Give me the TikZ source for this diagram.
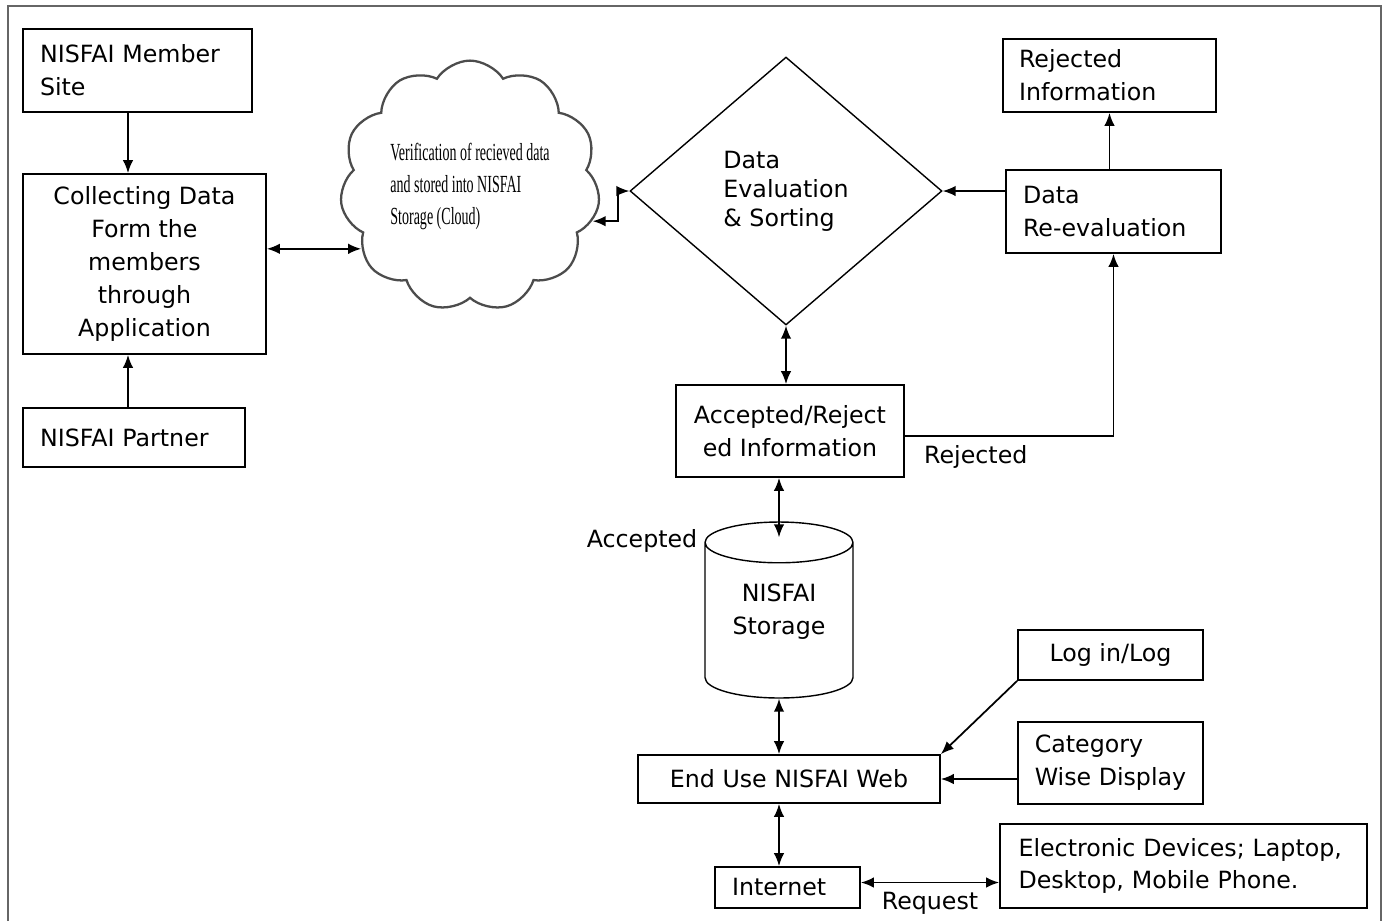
\documentclass[tikz,border=0pt]{standalone}
\usepackage{fontspec}
\setmainfont{DejaVu Sans}
\newfontfamily\cloudfont{Liberation Serif}
\usetikzlibrary{shapes.geometric,shapes.symbols,arrows.meta}

\begin{document}
\begin{tikzpicture}[
    x=0.02cm, y=-0.02cm,
    font=\fontsize{13.5}{18.7}\selectfont,
    box/.style={rectangle, draw, line width=1pt, inner sep=0pt, align=center},
    lbox/.style={box, align=left, inner xsep=0.34cm},
    decision/.style={diamond, draw, line width=0.8pt, inner sep=0pt, align=left, minimum width=6.24cm, minimum height=5.36cm, font=\fontsize{13.5}{16.4}\selectfont},
    store/.style={cylinder, draw, line width=0.8pt, shape border rotate=90, aspect=0.39, minimum width=2.96cm, minimum height=3.52cm, align=center, text depth=17pt},
    cloudbox/.style={cloud, draw=black!70, line width=1.3pt, cloud puffs=11, cloud puff arc=115, minimum width=5.2cm, minimum height=2.9cm, inner sep=0pt},
    arrow/.style={-{Latex[length=2.6mm, width=2.1mm]}, line width=1pt},
    darrow/.style={{Latex[length=2.6mm, width=2.1mm]}-{Latex[length=2.6mm, width=2.1mm]}, line width=1pt}
]
\useasboundingbox (0,0) rectangle (1384,921);
\draw[black!60, line width=1pt] (8,921) -- (8,6) -- (1381,6) -- (1381,921);

\node[lbox, text width=3.9cm, minimum height=1.66cm] (member) at (137.5,70.5) {NISFAI Member\\Site};
\node[box, minimum width=4.86cm, minimum height=3.6cm] (collect) at (144.5,264) {Collecting Data\\Form the\\members\\through\\Application};
\node[lbox, text width=3.76cm, minimum height=1.18cm] (partner) at (134,437.5) {NISFAI Partner};
\node[cloudbox] (cloud) at (470,186) {\cloudfont\fontsize{14}{18.4}\selectfont\scalebox{0.57}[1]{\begin{tabular}{@{}l@{}}Verification of recieved data\\and stored into NISFAI\\Storage (Cloud)\end{tabular}}};
\node[decision] (dia) at (786,191) {Data\\Evaluation\\\& Sorting};
\node[lbox, text width=3.62cm, minimum height=1.66cm] (reeval) at (1113.5,211.5) {Data\\Re-evaluation};
\node[lbox, text width=3.62cm, minimum height=1.46cm, inner xsep=0.32cm] (rejinfo) at (1109.5,75.5) {Rejected\\Information};
\node[box, minimum width=4.56cm, minimum height=1.84cm] (accrej) at (790,431) {Accepted/Reject\\ed Information};
\node[store, anchor=shape center] (storage) at (779,610) {NISFAI\\Storage};
\node (acclbl) at (642,541) {Accepted};
\node[box, minimum width=3.7cm, minimum height=1cm] (login) at (1110.5,655) {Log in/Log};
\node[lbox, minimum width=3.7cm, minimum height=1.64cm] (category) at (1110.5,763) {Category\\Wise Display};
\node[box, minimum width=6.04cm, minimum height=0.96cm] (enduse) at (789,779) {End Use NISFAI Web};
\node[lbox, text width=2.22cm, minimum height=0.82cm] (internet) at (787.5,887.5) {Internet};
\node[lbox, text width=6.6cm, minimum height=1.68cm, inner xsep=0.37cm] (devices) at (1183.5,866) {Electronic Devices; Laptop,\\Desktop, Mobile Phone.};

% Arrows
\draw[arrow] ([xshift=-0.19cm]member.south) -- ([xshift=-0.19cm]member.south |- collect.north);
\draw[arrow] ([xshift=-0.12cm]partner.north) -- ([xshift=-0.12cm]partner.north |- collect.south);
\draw[darrow] (collect.east |- cloud.210) -- (cloud.210);
\draw[darrow] (cloud.-16) -- ++(0.5cm,0) |- (dia.west);
\draw[arrow] (reeval.west |- dia.east) -- (dia.east);
\draw[arrow] (reeval.north -| rejinfo.south) -- (rejinfo.south);
\draw[darrow] (dia.south) -- (dia.south |- accrej.north);
\draw[arrow] ([yshift=-0.1cm]accrej.east) -| (reeval.south) node[pos=0.17, below, yshift=-0.05cm] {Rejected};
\draw[darrow] (accrej.south -| storage.north) -- ([yshift=-0.32cm]storage.north);
\draw[darrow] (storage.south) -- (storage.south |- enduse.north);
\draw[arrow] (login.south west) -- (enduse.north east);
\draw[arrow] (category.west |- enduse.east) -- (enduse.east);
\draw[darrow] (enduse.south -| storage.south) -- (storage.south |- internet.north);
\draw[darrow] ([yshift=0.1cm]internet.east) -- ([yshift=0.1cm]internet.east -| devices.west) node[midway, below, yshift=-0.05cm] {Request};

\end{tikzpicture}
\end{document}
